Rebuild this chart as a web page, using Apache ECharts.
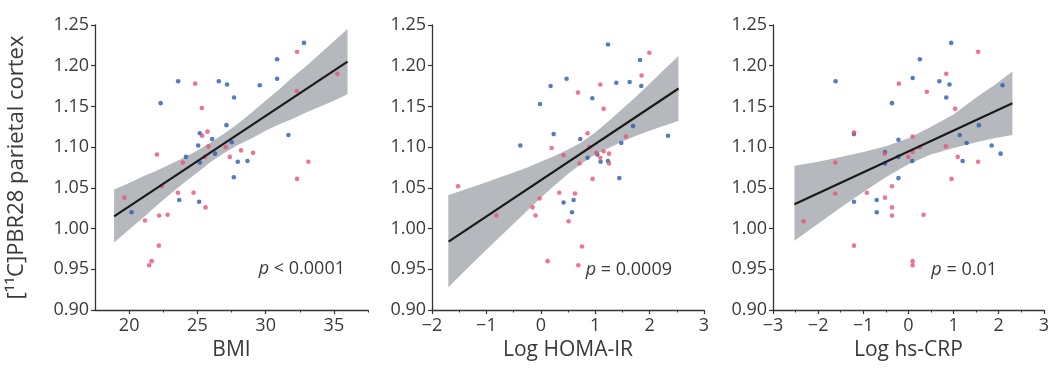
<!DOCTYPE html>
<html>
<head>
<meta charset="utf-8">
<script src="https://cdn.jsdelivr.net/npm/echarts@6/dist/echarts.min.js"></script>
<style>html,body{margin:0;padding:0;background:#fff}#c{width:1052px;height:368px}</style>
</head>
<body>
<div id="c"></div>
<script>
// ---------- data ----------
const yTitle = '[\u00B9\u00B9C]PBR28 parietal cortex';
const xTitles = ['BMI', 'Log HOMA-IR', 'Log hs-CRP'];
const pTexts = [['p', ' < 0.0001'], ['p', ' = 0.0009'], ['p', ' = 0.01']];
const xRanges = [[17.5, 37.5], [-2, 3], [-3, 3]];
const xMajorTicks = [[20, 25, 30, 35], [-2, -1, 0, 1, 2, 3], [-3, -2, -1, 0, 1, 2, 3]];
const xMinorTicks = [[22.5, 27.5, 32.5, 37.5], [-1.5, -0.5, 0.5, 1.5, 2.5], [-2.5, -1.5, -0.5, 0.5, 1.5, 2.5]];
const yTicks = [0.90, 0.95, 1.00, 1.05, 1.10, 1.15, 1.20, 1.25];

// Panel 1: BMI
const bmiBlue = [[32.81,1.228],[30.84,1.208],[30.84,1.184],[23.59,1.181],[26.57,1.181],[27.18,1.177],[29.57,1.176],[22.31,1.154],[27.69,1.161],[25.18,1.117],[27.13,1.127],[26.08,1.110],[27.52,1.106],[25.06,1.102],[31.67,1.115],[24.16,1.088],[26.30,1.092],[25.18,1.081],[27.96,1.082],[28.67,1.083],[27.67,1.063],[23.67,1.035],[25.13,1.033],[20.18,1.020]];
const bmiRed = [[32.30,1.217],[35.25,1.190],[24.84,1.178],[32.28,1.169],[25.33,1.148],[25.74,1.119],[25.35,1.114],[25.82,1.101],[27.08,1.100],[22.04,1.091],[25.55,1.088],[27.38,1.088],[28.20,1.096],[29.08,1.093],[23.94,1.081],[33.13,1.082],[32.30,1.061],[22.38,1.052],[19.65,1.038],[23.57,1.044],[24.72,1.044],[25.60,1.026],[21.16,1.010],[22.20,1.016],[22.82,1.017],[22.18,0.979],[21.65,0.960],[21.47,0.955]];
const bmiFitX = [18.9, 36.0];
const bmiFitY = [1.015, 1.205];
const bmiBandX  = [18.9, 20, 21, 22, 23, 24, 25, 26, 27, 28, 29, 30, 31, 32, 33, 34, 35, 36.0];
const bmiBandLo = [0.983, 0.999, 1.013, 1.028, 1.042, 1.056, 1.069, 1.082, 1.093, 1.103, 1.111, 1.120, 1.128, 1.135, 1.143, 1.150, 1.157, 1.165];
const bmiBandHi = [1.048, 1.056, 1.064, 1.071, 1.079, 1.087, 1.096, 1.106, 1.117, 1.129, 1.143, 1.157, 1.171, 1.186, 1.200, 1.215, 1.230, 1.245];

// Panel 2: Log HOMA-IR
const homaBlue = [[1.235,1.226],[1.824,1.207],[0.180,1.175],[0.474,1.184],[1.388,1.179],[1.633,1.180],[1.847,1.175],[0.947,1.160],[-0.015,1.153],[1.695,1.126],[0.236,1.116],[0.726,1.110],[2.338,1.114],[1.480,1.105],[-0.377,1.102],[1.039,1.091],[0.860,1.087],[1.099,1.082],[1.235,1.083],[1.443,1.062],[0.419,1.032],[0.603,1.035],[0.574,1.020]];
const homaRed = [[1.995,1.216],[1.853,1.188],[1.094,1.177],[0.684,1.167],[1.155,1.147],[0.860,1.117],[1.566,1.113],[0.199,1.099],[0.892,1.100],[0.419,1.090],[1.020,1.093],[1.155,1.095],[1.254,1.092],[1.094,1.087],[1.254,1.080],[0.713,1.080],[0.952,1.061],[-1.522,1.052],[0.340,1.044],[0.629,1.043],[-0.022,1.037],[-0.151,1.026],[-0.818,1.016],[-0.096,1.016],[0.511,1.009],[0.757,0.978],[0.125,0.960],[0.689,0.955]];
const homaFitX = [-1.695, 2.533];
const homaFitY = [0.984, 1.172];
const homaBandX  = [-1.7, -1.4, -1, -0.75, -0.5, -0.25, 0, 0.25, 0.5, 0.75, 1, 1.25, 1.5, 1.75, 2, 2.25, 2.53];
const homaBandLo = [0.928, 0.948, 0.974, 0.990, 1.006, 1.022, 1.038, 1.053, 1.067, 1.080, 1.091, 1.099, 1.107, 1.114, 1.120, 1.126, 1.132];
const homaBandHi = [1.041, 1.048, 1.057, 1.063, 1.069, 1.075, 1.082, 1.089, 1.097, 1.106, 1.118, 1.132, 1.147, 1.162, 1.178, 1.194, 1.212];

// Panel 3: Log hs-CRP
const crpBlue = [[0.947,1.228],[0.254,1.208],[-1.613,1.181],[0.094,1.185],[0.685,1.181],[0.910,1.177],[0.838,1.161],[-0.365,1.154],[2.085,1.176],[-1.206,1.116],[1.560,1.127],[1.136,1.115],[-0.221,1.109],[1.289,1.105],[1.845,1.102],[-0.519,1.094],[2.042,1.092],[-0.221,1.088],[-0.519,1.080],[0.085,1.083],[1.201,1.083],[-0.221,1.062],[-1.206,1.033],[-0.702,1.035],[-0.702,1.020]];
const crpRed = [[1.545,1.217],[0.838,1.190],[-0.212,1.178],[0.407,1.168],[1.035,1.147],[-1.206,1.118],[0.094,1.113],[-0.527,1.092],[-0.002,1.088],[0.094,1.094],[0.254,1.100],[0.829,1.101],[1.092,1.088],[1.545,1.082],[-1.621,1.081],[0.954,1.061],[-1.621,1.043],[-0.921,1.044],[-0.365,1.052],[-0.519,1.038],[-0.365,1.026],[-0.365,1.016],[0.335,1.017],[-2.322,1.009],[-1.206,0.979],[0.094,0.960],[0.094,0.955]];
const crpFitX = [-2.525, 2.304];
const crpFitY = [1.030, 1.154];
const crpBandX  = [-2.525, -2, -1.5, -1, -0.5, 0, 0.5, 1, 1.5, 1.9, 2.304];
const crpBandLo = [0.985, 1.006, 1.026, 1.045, 1.063, 1.079, 1.091, 1.099, 1.106, 1.111, 1.115];
const crpBandHi = [1.077, 1.082, 1.088, 1.094, 1.101, 1.111, 1.125, 1.140, 1.161, 1.176, 1.193];

// ---------- chart ----------
const FONT = '"Open Sans", "DejaVu Sans", sans-serif';
const TXT = '#3a3a3a';
const BLUE = '#2b5cae';
const RED = '#e85375';
const BAND = '#b5b9bd';

const panels = [
  {blue: bmiBlue, red: bmiRed, fx: bmiFitX, fy: bmiFitY, bx: bmiBandX, lo: bmiBandLo, hi: bmiBandHi},
  {blue: homaBlue, red: homaRed, fx: homaFitX, fy: homaFitY, bx: homaBandX, lo: homaBandLo, hi: homaBandHi},
  {blue: crpBlue, red: crpRed, fx: crpFitX, fy: crpFitY, bx: crpBandX, lo: crpBandLo, hi: crpBandHi}
];
const grids = [
  {left: 95, top: 25, width: 273, height: 285},
  {left: 432, top: 25, width: 272, height: 285},
  {left: 773, top: 25, width: 274, height: 285}
];

const xAxes = [], yAxes = [], series = [];
const fmtX = v => (v < 0 ? '\u2212' + Math.abs(v) : String(v));
panels.forEach((p, i) => {
  // main x axis: major ticks + labels
  xAxes.push({
    gridIndex: i, type: 'value', min: xRanges[i][0], max: xRanges[i][1],
    name: xTitles[i], nameLocation: 'middle', nameGap: 30,
    nameTextStyle: {fontFamily: FONT, fontSize: 21, color: TXT},
    axisLine: {show: true, onZero: false, lineStyle: {color: '#333', width: 1.3}},
    axisTick: {show: true, length: 4, customValues: xMajorTicks[i], lineStyle: {color: '#333', width: 1.2}},
    splitLine: {show: false},
    axisLabel: {fontFamily: FONT, fontSize: 18, color: TXT, margin: 7,
      customValues: xMajorTicks[i], formatter: fmtX}
  });
  yAxes.push({
    gridIndex: i, type: 'value', min: yTicks[0], max: yTicks[yTicks.length - 1], interval: 0.05,
    name: i === 0 ? yTitle : '', nameLocation: 'middle', nameGap: 67, nameRotate: 90,
    nameTextStyle: {fontFamily: FONT, fontSize: 22, color: TXT},
    axisLine: {show: true, onZero: false, lineStyle: {color: '#333', width: 1.3}},
    axisTick: {show: true, length: 4, lineStyle: {color: '#333', width: 1.2}},
    splitLine: {show: false},
    axisLabel: {fontFamily: FONT, fontSize: 18, color: TXT, margin: 6, formatter: v => v.toFixed(2)}
  });
});
// secondary x axes: minor ticks only
panels.forEach((p, i) => {
  xAxes.push({
    gridIndex: i, type: 'value', min: xRanges[i][0], max: xRanges[i][1], position: 'bottom',
    axisLine: {show: false, onZero: false},
    axisTick: {show: true, length: 2.5, customValues: xMinorTicks[i], lineStyle: {color: '#333', width: 1}},
    axisLabel: {show: false}, splitLine: {show: false}
  });
});
panels.forEach((p, i) => {
  // confidence band
  series.push({
    type: 'custom', xAxisIndex: i, yAxisIndex: i, z: 1, silent: true,
    data: [0],
    renderItem: function (params, api) {
      const pts = [];
      for (let k = 0; k < p.bx.length; k++) pts.push(api.coord([p.bx[k], p.hi[k]]));
      for (let k = p.bx.length - 1; k >= 0; k--) pts.push(api.coord([p.bx[k], p.lo[k]]));
      return {type: 'polygon', shape: {points: pts}, style: {fill: BAND}};
    }
  });
  series.push({
    type: 'scatter', xAxisIndex: i, yAxisIndex: i, z: 3, symbolSize: 4.6,
    itemStyle: {color: BLUE}, data: p.blue
  });
  series.push({
    type: 'scatter', xAxisIndex: i, yAxisIndex: i, z: 3, symbolSize: 4.6,
    itemStyle: {color: RED}, data: p.red
  });
  series.push({
    type: 'line', xAxisIndex: i, yAxisIndex: i, z: 4, symbol: 'none', silent: true,
    lineStyle: {color: '#1a1a1a', width: 2.2},
    data: [[p.fx[0], p.fy[0]], [p.fx[1], p.fy[1]]]
  });
});

const pPos = [[345, 272], [672, 273], [997, 273]];
const graphics = pTexts.map((t, i) => ({
  type: 'text', right: 1052 - pPos[i][0], top: pPos[i][1] - 12,
  style: {
    text: '{i|' + t[0] + '}{n|' + t[1] + '}',
    rich: {
      i: {fontFamily: FONT, fontSize: 18, fontStyle: 'italic', fill: TXT},
      n: {fontFamily: FONT, fontSize: 18, fill: TXT}
    }
  }
}));

const chart = echarts.init(document.getElementById('c'), null, {renderer: 'canvas'});
chart.setOption({
  animation: false,
  backgroundColor: '#fff',
  grid: grids,
  xAxis: xAxes,
  yAxis: yAxes,
  series: series,
  graphic: graphics
});
</script>
</body>
</html>
